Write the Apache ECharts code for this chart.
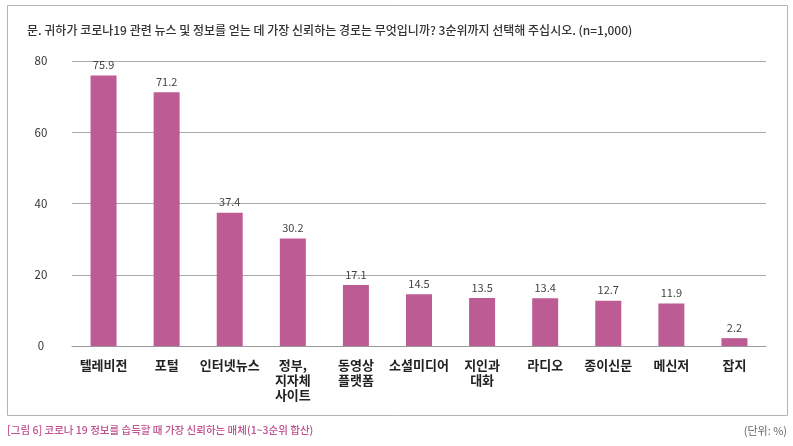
<!DOCTYPE html>
<html>
<head>
<meta charset="utf-8">
<script src="https://cdn.jsdelivr.net/npm/echarts@6/dist/echarts.min.js"></script>
<style>
  html, body { margin: 0; padding: 0; background: #fff; }
  #chart { width: 793px; height: 446px; }
</style>
</head>
<body>
<div id="chart"></div>
<script>
const categories = ['텔레비전', '포털', '인터넷뉴스', '정부,\n지자체\n사이트', '동영상\n플랫폼', '소셜미디어', '지인과\n대화', '라디오', '종이신문', '메신저', '잡지'];
const values = [75.9, 71.2, 37.4, 30.2, 17.1, 14.5, 13.5, 13.4, 12.7, 11.9, 2.2];
const yTicks = [0, 20, 40, 60, 80];

const titleText = '문. 귀하가 코로나19 관련 뉴스 및 정보를 얻는 데 가장 신뢰하는 경로는 무엇입니까? 3순위까지 선택해 주십시오. (n=1,000)';
const captionText = '[그림 6] 코로나 19 정보를 습득할 때 가장 신뢰하는 매체(1~3순위 합산)';
const unitText = '(단위: %)';

const font = '"Noto Sans CJK KR", "Noto Sans", sans-serif';

document.addEventListener('DOMContentLoaded', function () {
    const chart = echarts.init(document.getElementById('chart'));
    const option = {
        animation: false,
        textStyle: { fontFamily: font },
        graphic: [
            {
                type: 'rect',
                shape: { x: 7.5, y: 5.5, width: 780, height: 410 },
                style: { fill: 'none', stroke: '#b4b4b4', lineWidth: 1 },
                z: 0
            },
            {
                type: 'text',
                left: 27,
                top: 24,
                style: { text: titleText, fill: '#333', font: '500 12px ' + font }
            },
            {
                type: 'text',
                left: 7,
                top: 425,
                style: { text: captionText, fill: '#c0508f', font: '500 10.5px ' + font }
            },
            {
                type: 'text',
                right: 6,
                top: 425,
                style: { text: unitText, fill: '#666', font: '11px ' + font }
            }
        ],
        grid: {
            left: 72,
            right: 27,
            top: 61,
            bottom: 100
        },
        xAxis: {
            type: 'category',
            data: categories,
            axisLine: { lineStyle: { color: '#999', width: 1 } },
            axisTick: { show: false },
            axisLabel: {
                color: '#222',
                fontWeight: 'bold',
                fontSize: 13,
                lineHeight: 15,
                margin: 12,
                interval: 0
            }
        },
        yAxis: {
            type: 'value',
            min: yTicks[0],
            max: yTicks[yTicks.length - 1],
            interval: 20,
            axisLine: { show: false },
            axisTick: { show: false },
            axisLabel: {
                color: '#333',
                fontSize: 11.5,
                align: 'center',
                margin: 31
            },
            splitLine: { lineStyle: { color: '#aaa', width: 1 } }
        },
        series: [
            {
                type: 'bar',
                data: values,
                barWidth: 26,
                itemStyle: { color: '#bd5b94' },
                label: {
                    show: true,
                    position: 'top',
                    distance: 5,
                    color: '#444',
                    fontSize: 11
                }
            }
        ]
    };
    chart.setOption(option);

    window.addEventListener('resize', function () {
        chart.resize();
    });
});
</script>
</body>
</html>
